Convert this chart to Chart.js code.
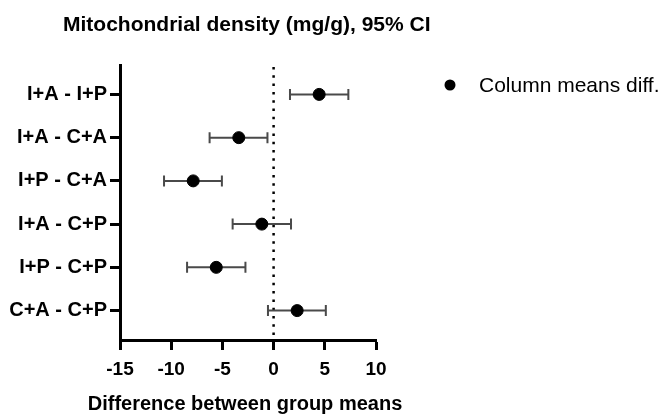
<!DOCTYPE html>
<html>
<head>
<meta charset="utf-8">
<title>Mitochondrial density</title>
<script src="https://cdn.jsdelivr.net/npm/chart.js@4"></script>
<style>
  html, body { margin: 0; padding: 0; background: #fff; }
  canvas { display: block; }
</style>
</head>
<body>
<canvas id="chart" width="667" height="417"></canvas>
<script>
// Tukey comparisons: mean difference with 95% CI
const comparisons = ['I+A - I+P', 'I+A - C+A', 'I+P - C+A', 'I+A - C+P', 'I+P - C+P', 'C+A - C+P'];
const meanDiff = [4.45, -3.4, -7.85, -1.15, -5.6, 2.3];
const ciLower = [1.6, -6.25, -10.7, -4.0, -8.45, -0.55];
const ciUpper = [7.3, -0.6, -5.05, 1.7, -2.75, 5.1];
const xTicks = [-15, -10, -5, 0, 5, 10];

const FONT = '"Liberation Sans", Arial, sans-serif';

// dotted line at zero + CI whiskers, drawn under the points
const ciPlugin = {
  id: 'ciBars',
  beforeDatasetsDraw(chart) {
    const { ctx, chartArea, scales: { x, y } } = chart;
    ctx.save();

    const x0 = x.getPixelForValue(0);
    ctx.strokeStyle = '#000';
    ctx.lineWidth = 2.5;
    ctx.setLineDash([2.5, 5.8]);
    ctx.beginPath();
    ctx.moveTo(x0, chartArea.top + 2);
    ctx.lineTo(x0, chartArea.bottom);
    ctx.stroke();
    ctx.setLineDash([]);

    ctx.strokeStyle = '#4a4a4a';
    ctx.lineWidth = 2;
    const cap = 5.5;
    comparisons.forEach((_, i) => {
      const py = y.getPixelForValue(i + 1);
      const xl = x.getPixelForValue(ciLower[i]);
      const xu = x.getPixelForValue(ciUpper[i]);
      ctx.beginPath();
      ctx.moveTo(xl, py);
      ctx.lineTo(xu, py);
      ctx.moveTo(xl, py - cap);
      ctx.lineTo(xl, py + cap);
      ctx.moveTo(xu, py - cap);
      ctx.lineTo(xu, py + cap);
      ctx.stroke();
    });
    ctx.restore();
  },
  afterDraw(chart) {
    const { ctx, scales: { x } } = chart;
    ctx.save();
    ctx.fillStyle = '#000';

    // heading
    ctx.font = 'bold 21px ' + FONT;
    ctx.textAlign = 'left';
    ctx.textBaseline = 'alphabetic';
    ctx.fillText('Mitochondrial density (mg/g), 95% CI', 63, 31);

    // x axis title, centred under the axis (no width squeeze)
    ctx.font = 'bold 20px ' + FONT;
    ctx.textAlign = 'center';
    ctx.fillText('Difference between group means', (x.left + x.right) / 2 - 3, 410);

    // legend entry
    ctx.textAlign = 'left';
    ctx.beginPath();
    ctx.arc(450, 85, 5.5, 0, Math.PI * 2);
    ctx.fill();
    ctx.font = '21px ' + FONT;
    ctx.textBaseline = 'middle';
    ctx.fillText(chart.data.datasets[0].label, 479, 86);
    ctx.restore();
  }
};

new Chart(document.getElementById('chart'), {
  type: 'scatter',
  data: {
    datasets: [{
      label: 'Column means diff.',
      data: meanDiff.map((m, i) => ({ x: m, y: i + 1 })),
      backgroundColor: '#000',
      borderColor: '#000',
      pointRadius: 6,
      pointHoverRadius: 6
    }]
  },
  options: {
    responsive: false,
    animation: false,
    devicePixelRatio: 1,
    layout: { padding: { top: 65, right: 291, left: 0, bottom: 0 } },
    plugins: {
      legend: { display: false },
      tooltip: { enabled: false }
    },
    scales: {
      x: {
        type: 'linear',
        min: -15,
        max: 10,
        afterBuildTicks: (scale) => { scale.ticks = xTicks.map(v => ({ value: v })); },
        afterFit: (scale) => { scale.height = 77; },
        border: { display: true, color: '#000', width: 3 },
        grid: { drawOnChartArea: false, drawTicks: true, tickLength: 10, tickWidth: 3, tickColor: '#000' },
        ticks: {
          color: '#000',
          padding: 8,
          maxRotation: 0,
          font: { family: FONT, size: 19, weight: 'bold' }
        }
      },
      y: {
        type: 'linear',
        reverse: true,
        min: 0.32,
        max: 6.68,
        afterBuildTicks: (scale) => { scale.ticks = comparisons.map((_, i) => ({ value: i + 1 })); },
        afterFit: (scale) => { scale.width = 120; },
        border: { display: true, color: '#000', width: 3 },
        grid: { drawOnChartArea: false, drawTicks: true, tickLength: 10, tickWidth: 3, tickColor: '#000' },
        ticks: {
          color: '#000',
          padding: 3,
          font: { family: FONT, size: 20, weight: 'bold' },
          callback: (v) => comparisons[v - 1]
        }
      }
    }
  },
  plugins: [ciPlugin]
});
</script>
</body>
</html>
